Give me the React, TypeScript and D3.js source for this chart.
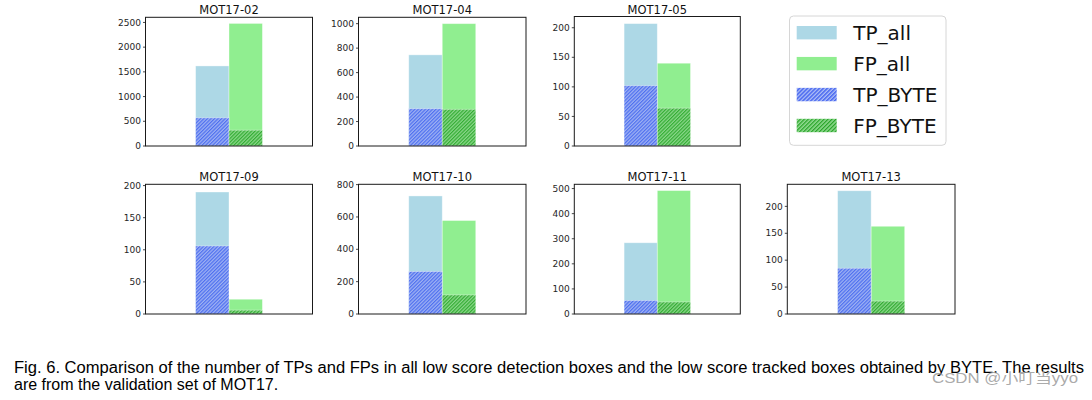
import React from "react";
import * as d3 from "d3";

// ---- data ----
const panels = ["MOT17-02", "MOT17-04", "MOT17-05", "MOT17-09", "MOT17-10", "MOT17-11", "MOT17-13"];
const tpAll = [1620, 745, 207, 190, 730, 284, 229];
const fpAll = [2480, 1000, 140, 23, 578, 492, 163];
const tpByte = [570, 305, 102, 106, 263, 54, 85];
const fpByte = [320, 300, 64, 6, 118, 48, 24];
const yLimits = [2604, 1052, 219, 202, 802, 517, 241];
const yTicks = [
  [0, 500, 1000, 1500, 2000, 2500],
  [0, 200, 400, 600, 800, 1000],
  [0, 50, 100, 150, 200],
  [0, 50, 100, 150, 200],
  [0, 200, 400, 600, 800],
  [0, 100, 200, 300, 400, 500],
  [0, 50, 100, 150, 200],
];
const legendLabels = ["TP_all", "FP_all", "TP_BYTE", "FP_BYTE"];
const captionLines = [
  "Fig. 6. Comparison of the number of TPs and FPs in all low score detection boxes and the low score tracked boxes obtained by BYTE. The results",
  "are from the validation set of MOT17.",
];
const watermark = "CSDN @小叮当yyo";

// ---- layout ----
const frames = [
  { x: 145.5, y: 17.3, w: 167, h: 128.7 },
  { x: 358.5, y: 17.3, w: 167.5, h: 128.7 },
  { x: 574.3, y: 16.5, w: 166, h: 129.5 },
  { x: 145.5, y: 184.3, w: 167, h: 129.7 },
  { x: 358.5, y: 184.3, w: 167.5, h: 129.7 },
  { x: 574.3, y: 184.3, w: 166, h: 129.7 },
  { x: 787.3, y: 184.3, w: 167.7, h: 129.7 },
];

const C = {
  tpAll: "#add8e6",
  fpAll: "#90ee90",
  tick: "#262626",
};

const FONT = "'DejaVu Sans', sans-serif";

function Panel({ i }: { i: number }) {
  const f = frames[i];
  const x = d3.scaleLinear().domain([-2.5, 2.5]).range([f.x, f.x + f.w]);
  const y = d3.scaleLinear().domain([0, yLimits[i]]).range([f.y + f.h, f.y]);
  const slotStart = (s: string) => (s === "TP" ? -1 : 0);
  const bars = [
    { slot: "TP", v: tpAll[i], fill: C.tpAll },
    { slot: "FP", v: fpAll[i], fill: C.fpAll },
    { slot: "TP", v: tpByte[i], fill: "url(#hatchBlue)" },
    { slot: "FP", v: fpByte[i], fill: "url(#hatchGreen)" },
  ];
  return (
    <g>
      {bars.map((b, k) => (
        <rect
          key={k}
          x={x(slotStart(b.slot))}
          width={x(slotStart(b.slot) + 1) - x(slotStart(b.slot))}
          y={y(b.v)}
          height={y(0) - y(b.v)}
          fill={b.fill}
          stroke="#ffffff"
          strokeOpacity={0.45}
          strokeWidth={0.8}
        />
      ))}
      <rect x={f.x} y={f.y} width={f.w} height={f.h} fill="none" stroke="#1a1a1a" strokeWidth={1} />
      {yTicks[i].map((t) => (
        <g key={t}>
          <line x1={f.x - 2.5} x2={f.x} y1={y(t)} y2={y(t)} stroke="#1a1a1a" strokeWidth={0.8} />
          <text
            x={f.x - 4.5}
            y={y(t)}
            dy="0.35em"
            textAnchor="end"
            fontFamily={FONT}
            fontSize={9}
            fill={C.tick}
          >
            {t}
          </text>
        </g>
      ))}
      <text
        x={f.x + f.w / 2}
        y={f.y - 3}
        textAnchor="middle"
        fontFamily={FONT}
        fontSize={11.5}
        fill="#111"
      >
        {panels[i]}
      </text>
    </g>
  );
}

function Legend() {
  const lx = 789.5, ly = 16, lw = 156.5, lh = 129.3;
  const rowY = d3.scalePoint().domain(legendLabels).range([32.7, 125.5]);
  const fills = ["#add8e6", "#90ee90", "url(#hatchBlueL)", "url(#hatchGreenL)"];
  return (
    <g>
      <rect x={lx} y={ly} width={lw} height={lh} rx={4} fill="#fff" stroke="#d6d6d6" strokeWidth={1} />
      {legendLabels.map((l, k) => (
        <g key={l}>
          <rect x={796.7} y={(rowY(l) as number) - 6.7} width={40} height={13.4} fill={fills[k]} />
          <text x={853.3} y={rowY(l) as number} dy="0.36em" fontFamily={FONT} fontSize={20} fill="#111">
            {l}
          </text>
        </g>
      ))}
    </g>
  );
}

export default function App() {
  return (
    <svg
      width={1092}
      height={400}
      viewBox="0 0 1092 400"
      style={{ position: "absolute", left: 0, top: 0, background: "#fff" }}
    >
      <defs>
        <pattern id="hatchBlue" patternUnits="userSpaceOnUse" width={2.5} height={2.5} patternTransform="rotate(45)">
          <rect width={2.5} height={2.5} fill="#9fb2f3" />
          <rect width={1.2} height={2.5} fill="#4d6ff0" />
        </pattern>
        <pattern id="hatchGreen" patternUnits="userSpaceOnUse" width={2.5} height={2.5} patternTransform="rotate(45)">
          <rect width={2.5} height={2.5} fill="#8bd78b" />
          <rect width={1.2} height={2.5} fill="#33ad33" />
        </pattern>
        <pattern id="hatchBlueL" patternUnits="userSpaceOnUse" width={2.8} height={2.8} patternTransform="rotate(45)">
          <rect width={2.8} height={2.8} fill="#aabcf5" />
          <rect width={1.3} height={2.8} fill="#3c5cf0" />
        </pattern>
        <pattern id="hatchGreenL" patternUnits="userSpaceOnUse" width={2.8} height={2.8} patternTransform="rotate(45)">
          <rect width={2.8} height={2.8} fill="#95dc95" />
          <rect width={1.3} height={2.8} fill="#2aa52a" />
        </pattern>
      </defs>
      <rect width={1092} height={400} fill="#fff" />
      {panels.map((_, i) => (
        <Panel key={i} i={i} />
      ))}
      <Legend />
      <text
        x={14}
        y={373}
        fontFamily="'Liberation Sans', Arial, sans-serif"
        fontSize={16}
        fill="#000"
        textLength={1070}
        lengthAdjust="spacingAndGlyphs"
      >
        {captionLines[0]}
      </text>
      <text x={14} y={389.5} fontFamily="'Liberation Sans', Arial, sans-serif" fontSize={16} fill="#000">
        {captionLines[1]}
      </text>
      <text
        x={932}
        y={382.5}
        fontFamily="'Liberation Sans', 'Noto Sans CJK SC', sans-serif"
        fontSize={14}
        fill="#a0a0a0"
        fillOpacity={0.9}
        textLength={146}
        lengthAdjust="spacingAndGlyphs"
      >
        {watermark}
      </text>
    </svg>
  );
}
